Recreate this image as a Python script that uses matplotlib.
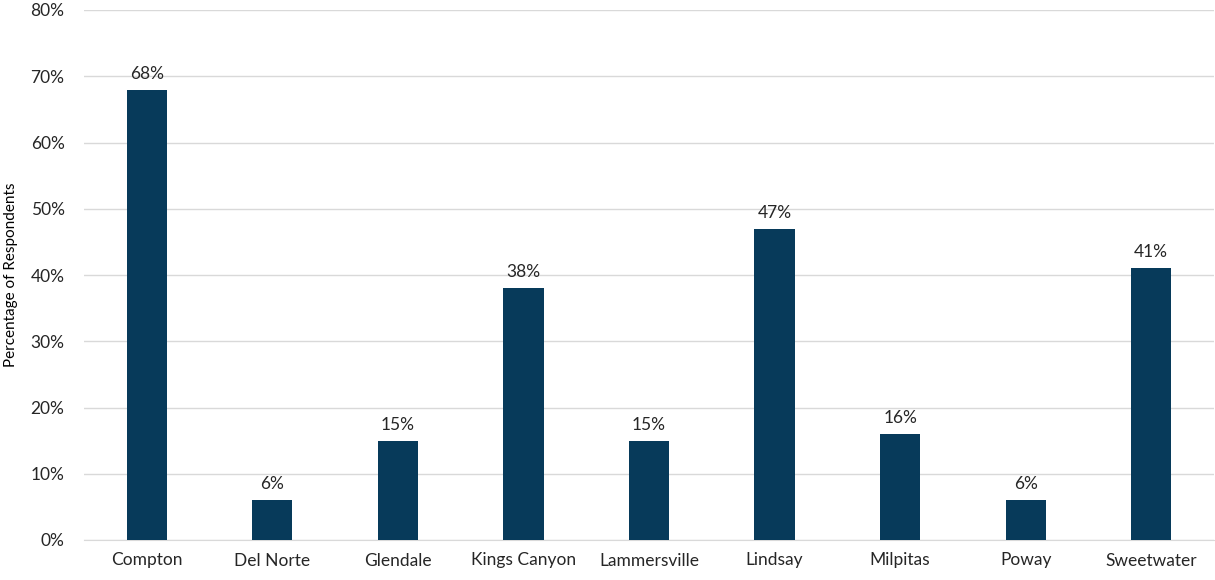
import matplotlib
matplotlib.use("Agg")
import matplotlib.pyplot as plt
from matplotlib.ticker import PercentFormatter

plt.rcParams['font.family'] = ['Lato', 'DejaVu Sans']

cities = ["Compton", "Del Norte", "Glendale", "Kings Canyon", "Lammersville",
          "Lindsay", "Milpitas", "Poway", "Sweetwater"]
percent = [68, 6, 15, 38, 15, 47, 16, 6, 41]

fig = plt.figure(figsize=(12.15, 5.8), dpi=100)
ax = fig.add_axes([84 / 1215, 40 / 580, (1214 - 84) / 1215, 530 / 580])

x = range(len(cities))
ax.bar(x, percent, width=0.32, color="#073A5A", zorder=3)
for xi, v in zip(x, percent):
    ax.text(xi, v + 1.2, f"{v}%", ha="center", va="bottom", fontsize=12.5, color="#262626")

ax.set_xlim(-0.5, len(cities) - 0.5)
ax.set_ylim(0, 80)
ax.set_yticks(range(0, 81, 10))
ax.yaxis.set_major_formatter(PercentFormatter(decimals=0))
ax.set_xticks(list(x))
ax.set_xticklabels(cities)
ax.grid(axis="y", color="#D9D9D9", linewidth=1, zorder=0)
for s in ["top", "right", "left"]:
    ax.spines[s].set_visible(False)
ax.spines["bottom"].set_color("#D9D9D9")
ax.tick_params(axis="both", length=0, labelsize=12.5, labelcolor="#262626")
ax.tick_params(axis="y", pad=14)
ax.tick_params(axis="x", pad=9)

fig.text(11 / 1215, (580 - 275) / 580, "Percentage of Respondents", rotation=90,
         ha="center", va="center", fontsize=11, color="#000000")

fig.savefig("out.png", dpi=100)
